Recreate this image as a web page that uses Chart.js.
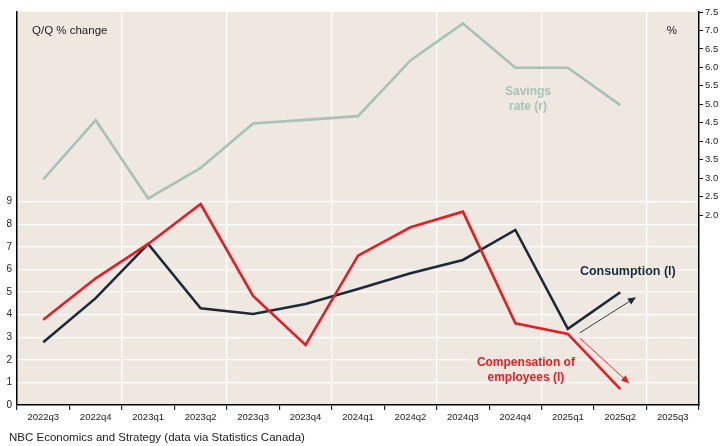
<!DOCTYPE html>
<html>
<head>
<meta charset="utf-8">
<script src="https://cdn.jsdelivr.net/npm/chart.js@4/dist/chart.umd.min.js"></script>
<style>
  html, body { margin: 0; padding: 0; background: #ffffff; }
  #wrap { width: 726px; height: 446px; }
</style>
</head>
<body>
<div id="wrap"><canvas id="chart" width="726" height="446"></canvas></div>
<script>
// Quarterly categories
const quarters = ['2022q3','2022q4','2023q1','2023q2','2023q3','2023q4','2024q1','2024q2','2024q3','2024q4','2025q1','2025q2','2025q3'];

// Q/Q % change (left axis)
const consumption  = [2.78, 4.73, 7.13, 4.28, 4.03, 4.47, 5.14, 5.83, 6.42, 7.75, 3.37, 4.99, null];
const compensation = [3.77, 5.61, 7.13, 8.90, 4.83, 2.66, 6.61, 7.87, 8.56, 3.62, 3.15, 0.70, null];

// Savings rate, % (right axis)
const savingsRate  = [2.97, 4.57, 2.45, 3.28, 4.48, 4.58, 4.68, 6.19, 7.19, 5.99, 5.99, 4.98, null];

// Tick labels shown on each axis
const leftTicks  = [0, 1, 2, 3, 4, 5, 6, 7, 8, 9];
const rightTicks = [2.0, 2.5, 3.0, 3.5, 4.0, 4.5, 5.0, 5.5, 6.0, 6.5, 7.0, 7.5];

const NAVY = '#1c2a39';
const RED = '#e31e25';
const SAGE = '#a7c2b6';
const PANEL = '#eee8e1';
const FONT = "'Liberation Sans', Arial, sans-serif";

const panelBackground = {
  id: 'panelBackground',
  beforeDraw(chart) {
    const { ctx, chartArea: a } = chart;
    ctx.save();
    ctx.fillStyle = PANEL;
    ctx.fillRect(a.left, a.top, a.right - a.left, a.bottom - a.top);
    ctx.restore();
  }
};

function arrow(ctx, x1, y1, x2, y2, color) {
  const ang = Math.atan2(y2 - y1, x2 - x1);
  const head = 8, half = 3.5;
  ctx.save();
  ctx.strokeStyle = color;
  ctx.fillStyle = color;
  ctx.lineWidth = 0.9;
  ctx.beginPath();
  ctx.moveTo(x1, y1);
  ctx.lineTo(x2 - Math.cos(ang) * head * 0.8, y2 - Math.sin(ang) * head * 0.8);
  ctx.stroke();
  ctx.beginPath();
  ctx.moveTo(x2, y2);
  ctx.lineTo(x2 - Math.cos(ang) * head + Math.sin(ang) * half, y2 - Math.sin(ang) * head - Math.cos(ang) * half);
  ctx.lineTo(x2 - Math.cos(ang) * head - Math.sin(ang) * half, y2 - Math.sin(ang) * head + Math.cos(ang) * half);
  ctx.closePath();
  ctx.fill();
  ctx.restore();
}

const annotations = {
  id: 'annotations',
  afterDatasetsDraw(chart) {
    const { ctx, chartArea: a } = chart;
    const x = chart.scales.x, yl = chart.scales.yLeft, yr = chart.scales.yRight;
    const px = (i) => x.getPixelForValue(0) + i * (x.getPixelForValue(1) - x.getPixelForValue(0));
    ctx.save();
    // axis titles
    ctx.fillStyle = '#222222';
    ctx.font = `11.5px ${FONT}`;
    ctx.textBaseline = 'middle';
    ctx.textAlign = 'left';
    ctx.fillText('Q/Q % change', a.left + 15, a.top + 19);
    ctx.textAlign = 'right';
    ctx.fillText('%', a.right - 22, a.top + 19);

    // series labels
    ctx.font = `bold 12px ${FONT}`;
    ctx.textAlign = 'center';
    ctx.fillStyle = SAGE;
    ctx.fillText('Savings', px(9.24), yr.getPixelForValue(5.33));
    ctx.fillText('rate (r)', px(9.24), yr.getPixelForValue(4.93));

    ctx.font = `bold 12.5px ${FONT}`;
    ctx.textAlign = 'left';
    ctx.fillStyle = NAVY;
    ctx.fillText('Consumption (l)', px(10.23), yl.getPixelForValue(5.89));

    ctx.font = `bold 12px ${FONT}`;
    ctx.textAlign = 'center';
    ctx.fillStyle = RED;
    ctx.fillText('Compensation of', px(9.2), yl.getPixelForValue(1.86));
    ctx.fillText('employees (l)', px(9.2), yl.getPixelForValue(1.20));
    ctx.restore();

    // trend arrows from the latest quarter
    arrow(ctx, px(10.23), yl.getPixelForValue(3.20), px(11.3), yl.getPixelForValue(4.77), NAVY);
    arrow(ctx, px(10.23), yl.getPixelForValue(2.96), px(11.17), yl.getPixelForValue(0.96), RED);

    // source line
    ctx.save();
    ctx.fillStyle = '#222222';
    ctx.font = `11.5px ${FONT}`;
    ctx.textAlign = 'left';
    ctx.textBaseline = 'middle';
    ctx.fillText('NBC Economics and Strategy (data via Statistics Canada)', 9, 438);
    ctx.restore();
  }
};

new Chart(document.getElementById('chart'), {
  type: 'line',
  data: {
    labels: quarters,
    datasets: [
      { label: 'Compensation of employees (l)', data: compensation, yAxisID: 'yLeft', borderColor: RED, borderWidth: 2.6, order: 0 },
      { label: 'Consumption (l)', data: consumption, yAxisID: 'yLeft', borderColor: NAVY, borderWidth: 2.6, order: 1 },
      { label: 'Savings rate (r)', data: savingsRate, yAxisID: 'yRight', borderColor: SAGE, borderWidth: 2.6, order: 2 }
    ]
  },
  options: {
    responsive: false,
    devicePixelRatio: 1,
    animation: false,
    events: [],
    elements: { point: { radius: 0 }, line: { tension: 0, borderJoinStyle: 'miter', borderCapStyle: 'butt' } },
    layout: { padding: { top: 12, left: 0, right: 0, bottom: 0 } },
    plugins: { legend: { display: false }, tooltip: { enabled: false }, title: { display: false } },
    scales: {
      x: {
        type: 'category',
        offset: true,
        afterFit(s) { s.height = 41; },
        grid: {
          offset: true,
          drawTicks: true,
          tickLength: 5,
          tickColor: '#000000',
          tickWidth: 1,
          lineWidth: 1.3,
          color: (c) => (c.index > 0 && c.index % 2 === 0) ? '#ffffff' : 'rgba(0,0,0,0)'
        },
        border: { display: true, color: '#000000', width: 1.5 },
        ticks: { color: '#222222', font: { family: FONT, size: 9.5 }, padding: 2, maxRotation: 0, autoSkip: false }
      },
      yLeft: {
        type: 'linear',
        position: 'left',
        min: 0,
        max: 17.4,
        afterFit(s) { s.width = 17; },
        afterBuildTicks(s) { s.ticks = leftTicks.map(v => ({ value: v })); },
        grid: { drawTicks: false, lineWidth: 1.3, color: (c) => (c.tick && c.tick.value === 0) ? 'rgba(0,0,0,0)' : '#ffffff' },
        border: { display: true, color: '#000000', width: 1.5 },
        ticks: { color: '#222222', font: { family: FONT, size: 10 }, padding: 5 }
      },
      yRight: {
        type: 'linear',
        position: 'right',
        min: -3.14,
        max: 7.5,
        afterFit(s) { s.width = 27; },
        afterBuildTicks(s) { s.ticks = rightTicks.map(v => ({ value: v })); },
        grid: { drawOnChartArea: false, drawTicks: true, tickLength: 4, tickColor: '#000000', tickWidth: 1 },
        border: { display: true, color: '#000000', width: 1.5 },
        ticks: { color: '#222222', font: { family: FONT, size: 9.5 }, padding: 2, callback: (v) => Number(v).toFixed(1) }
      }
    }
  },
  plugins: [panelBackground, annotations]
});
</script>
</body>
</html>
